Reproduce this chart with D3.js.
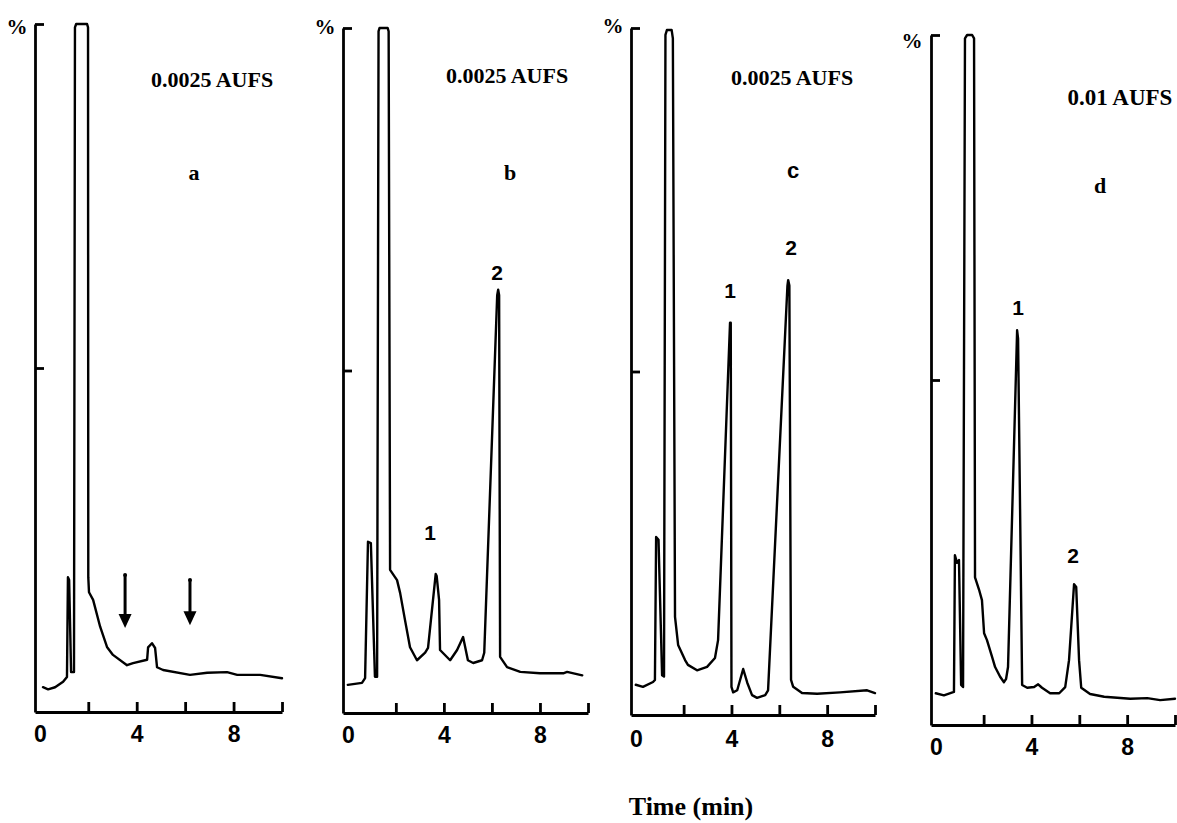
<!DOCTYPE html>
<html><head><meta charset="utf-8">
<script src="https://cdn.jsdelivr.net/npm/d3@7"></script>
<style>
html,body{margin:0;padding:0;background:#fff;}
svg{display:block;}
</style></head><body>
<svg id="chart" width="1177" height="823"></svg>
<script>
// ---------------- DATA ----------------
const panelIds = ["a", "b", "c", "d"];
const sensitivityLabels = ["0.0025 AUFS", "0.0025 AUFS", "0.0025 AUFS", "0.01 AUFS"];
const xTickValues = [2, 4, 6, 8, 10];
const xTickLabelValues = [0, 4, 8];
const yTickValues = [50, 100];
const yAxisLabel = "%";
const xAxisTitle = "Time (min)";

// Panel a (blank) — time (min) and detector signal (% of full scale)
const timeA =   [0.13,0.34,0.63,0.96,1.12,1.16,1.21,1.29,1.41,1.45,1.50,1.95,1.99,2.00,2.03,2.20,2.49,2.78,3.02,3.60,3.85,4.43,4.47,4.63,4.76,4.84,5.09,6.20,6.91,7.73,8.15,9.10,10.0];
const signalA = [3.6, 3.3, 3.6, 4.4, 5.1, 19.6,19.2,5.8, 5.8, 99.5,100, 100, 99.5,19.6,17.4,16.3,12.4,9.4, 8.3, 6.8, 7.1, 7.6, 9.4, 10.0,9.3, 6.5, 6.1, 5.4, 5.7, 5.8, 5.4, 5.4, 4.9];
const arrowTimesA = [3.52, 6.2];
const arrowStartA = [19.9, 19.2];
const arrowEndA = [12.2, 12.6];

// Panel b
const timeB =   [0.0, 0.59,0.72,0.84,0.96,1.13,1.22,1.28,1.32,1.66,1.70,1.76,2.05,2.18,2.38,2.59,2.88,3.22,3.34,3.66,3.70,3.80,3.84,4.26,4.55,4.80,5.00,5.22,5.59,5.68,6.22,6.26,6.30,6.34,6.63,7.18,8.00,8.97,9.13,9.76];
const signalB = [4.1, 4.4, 5.1, 25.0,24.8,5.3, 5.3, 99.5,100, 100, 99.5,20.9,19.4,17.5,13.6,9.6, 7.7, 8.8, 9.5, 20.3,20.0,16.5,9.2, 7.7, 9.2, 11.1,7.7, 7.3, 7.7, 8.8, 61.0,61.8,61.0,8.2, 6.7, 6.0, 5.8, 5.8, 6.0, 5.5];

// Panel c
const timeC =   [0.0, 0.30,0.72,0.80,0.85,0.95,1.10,1.18,1.24,1.30,1.50,1.55,1.64,1.77,2.06,2.18,2.56,2.98,3.31,3.44,3.94,3.97,4.00,4.07,4.24,4.49,4.66,4.86,5.07,5.41,5.53,6.34,6.37,6.42,6.49,6.58,6.95,7.58,8.54,9.67,10.0];
const signalC = [4.4, 4.1, 4.8, 5.1, 25.9,25.5,5.8, 5.6, 99.0,99.7,99.7,98.5,14.3,10.2,8.0, 7.3, 6.5, 7.0, 8.3, 10.9,57.1,57.1,4.1, 3.3, 3.6, 6.7, 4.7, 2.9, 2.5, 2.9, 3.6, 62.5,63.3,62.5,5.1, 4.1, 3.2, 3.1, 3.3, 3.6, 3.2];

// Panel d
const timeD =   [0.0, 0.34,0.76,0.80,0.89,0.97,1.06,1.14,1.22,1.31,1.52,1.60,1.64,1.81,1.93,2.02,2.14,2.35,2.48,2.69,2.85,2.94,3.02,3.40,3.44,3.61,3.82,4.11,4.28,4.44,4.78,5.16,5.41,5.57,5.78,5.87,5.99,6.08,6.45,7.04,8.13,8.84,9.38,10.0];
const signalD = [4.6, 4.3, 4.8, 24.6,23.5,23.9,5.8, 5.5, 99.5,100, 100, 99.5,21.4,19.6,18.1,13.3,12.3,9.9, 8.4, 7.0, 6.2, 6.7, 8.4, 57.2,56.0,5.8, 5.4, 5.5, 5.9, 5.4, 4.6, 4.6, 5.5, 9.4, 20.4,20.0,9.4, 5.4, 4.5, 4.1, 3.8, 3.9, 3.6, 3.8];

// Peak names and where their labels sit (time, signal)
const peakNamesB = ["1", "2"]; const peakLabelTimeB = [3.43, 6.22]; const peakLabelSignalB = [25.3, 63.2];
const peakNamesC = ["1", "2"]; const peakLabelTimeC = [3.94, 6.49]; const peakLabelSignalC = [60.7, 67.0];
const peakNamesD = ["1", "2"]; const peakLabelTimeD = [3.44, 5.74]; const peakLabelSignalD = [59.4, 23.5];

// ---------------- LAYOUT ----------------
const layout = [
  {axisX: 35,  top: 24, bottom: 712, xEnd: 282,  aufs: [212, 87],  aufsSize: 22, letter: [194, 180], letterFont: "serif", pct: [17, 34],  pad: 14},
  {axisX: 343, top: 28, bottom: 713, xEnd: 588,  aufs: [507, 83],  aufsSize: 22, letter: [510, 180], letterFont: "serif", pct: [325, 34], pad: 14},
  {axisX: 631, top: 28, bottom: 715, xEnd: 875,  aufs: [792, 85],  aufsSize: 22, letter: [793, 178], letterFont: "sans",  pct: [613, 33], pad: 16},
  {axisX: 931, top: 35, bottom: 725, xEnd: 1175, aufs: [1120, 105], aufsSize: 23, letter: [1100, 193], letterFont: "serif", pct: [912, 48], pad: 14}
];

const traces = [
  {t: timeA, v: signalA},
  {t: timeB, v: signalB},
  {t: timeC, v: signalC},
  {t: timeD, v: signalD}
];
const peakLabels = [
  null,
  {n: peakNamesB, t: peakLabelTimeB, v: peakLabelSignalB},
  {n: peakNamesC, t: peakLabelTimeC, v: peakLabelSignalC},
  {n: peakNamesD, t: peakLabelTimeD, v: peakLabelSignalD}
];

const SERIF = "'Liberation Serif', 'Times New Roman', serif";
const SANS = "'Liberation Sans', Arial, Helvetica, sans-serif";

const svg = d3.select("#chart");
svg.append("rect").attr("width", 1177).attr("height", 823).attr("fill", "#fff");

panelIds.forEach((id, i) => {
  const L = layout[i];
  const x = d3.scaleLinear().domain([-0.2, 10]).range([L.axisX, L.xEnd]);
  const y = d3.scaleLinear().domain([0, 100]).range([L.bottom, L.top]);
  const g = svg.append("g").attr("class", "panel-" + id);

  // x axis: tick marks pointing up
  const xAxisTicks = g.append("g")
    .attr("transform", `translate(0,${L.bottom})`)
    .call(d3.axisBottom(x).tickValues(xTickValues).tickSize(-10).tickSizeOuter(0).tickFormat(""));
  xAxisTicks.selectAll("path,line").attr("stroke", "#000").attr("stroke-width", 2.8);

  // x axis labels
  const xAxisLabels = g.append("g")
    .attr("transform", `translate(0,${L.bottom})`)
    .call(d3.axisBottom(x).tickValues(xTickLabelValues).tickSize(0).tickSizeOuter(0).tickPadding(L.pad).tickFormat(d3.format("d")));
  xAxisLabels.select(".domain").remove();
  xAxisLabels.selectAll("text")
    .attr("font-family", SANS).attr("font-weight", "bold").attr("font-size", 23).attr("fill", "#000");

  // y axis
  const yAxis = g.append("g")
    .attr("transform", `translate(${L.axisX},0)`)
    .call(d3.axisRight(y).tickValues(yTickValues).tickSize(9).tickSizeOuter(0).tickFormat(""));
  yAxis.selectAll("path,line").attr("stroke", "#000").attr("stroke-width", 2.8);

  // "%" label
  g.append("text").attr("x", L.pct[0]).attr("y", L.pct[1]).attr("text-anchor", "middle")
    .attr("font-family", SERIF).attr("font-weight", "bold").attr("font-size", 21).text(yAxisLabel);

  // trace
  const tr = traces[i];
  const pts = tr.t.map((t, k) => [t, tr.v[k]]);
  g.append("path").datum(pts)
    .attr("fill", "none").attr("stroke", "#000").attr("stroke-width", 2.4)
    .attr("stroke-linejoin", "round").attr("stroke-linecap", "round")
    .attr("d", d3.line().x(d => x(d[0])).y(d => y(d[1])));

  // sensitivity label
  g.append("text").attr("x", L.aufs[0]).attr("y", L.aufs[1]).attr("text-anchor", "middle")
    .attr("font-family", SERIF).attr("font-weight", "bold").attr("font-size", L.aufsSize)
    .text(sensitivityLabels[i]);

  // panel letter
  g.append("text").attr("x", L.letter[0]).attr("y", L.letter[1]).attr("text-anchor", "middle")
    .attr("font-family", L.letterFont === "sans" ? SANS : SERIF).attr("font-weight", "bold")
    .attr("font-size", 22).text(id);

  // peak labels
  const pl = peakLabels[i];
  if (pl) {
    pl.n.forEach((name, k) => {
      g.append("text").attr("x", x(pl.t[k])).attr("y", y(pl.v[k])).attr("text-anchor", "middle")
        .attr("font-family", SANS).attr("font-weight", "bold").attr("font-size", 21).text(name);
    });
  }

  // arrows (panel a only)
  if (id === "a") {
    arrowTimesA.forEach((t, k) => {
      const ax = x(t), y0 = y(arrowStartA[k]), y1 = y(arrowEndA[k]);
      g.append("line").attr("x1", ax).attr("x2", ax).attr("y1", y0).attr("y2", y1 - 10)
        .attr("stroke", "#000").attr("stroke-width", 3);
      g.append("circle").attr("cx", ax).attr("cy", y0).attr("r", 2).attr("fill", "#000");
      g.append("path").attr("d", `M${ax - 6.5},${y1 - 14} L${ax + 6.5},${y1 - 14} L${ax},${y1} Z`).attr("fill", "#000");
    });
  }
});

// shared x title
svg.append("text").attr("x", 691).attr("y", 815).attr("text-anchor", "middle")
  .attr("font-family", SERIF).attr("font-weight", "bold").attr("font-size", 26).text(xAxisTitle);
</script>
</body></html>
